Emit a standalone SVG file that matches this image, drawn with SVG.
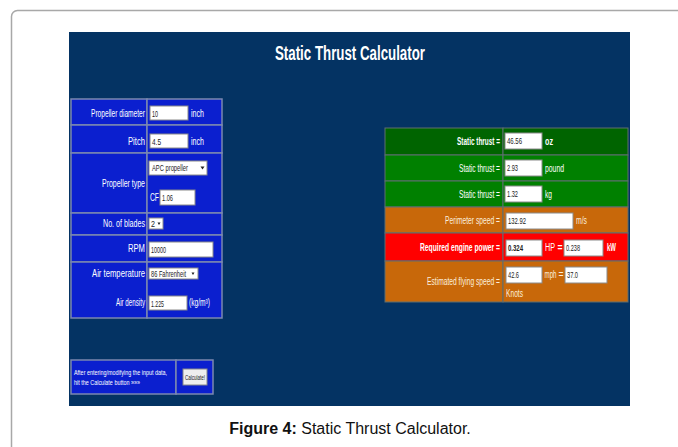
<svg xmlns="http://www.w3.org/2000/svg" width="678" height="447" viewBox="0 0 678 447">
<style>
text{font-family:"Liberation Sans",Arial,sans-serif;}
.lbl{fill:#fff;font-size:11px;text-anchor:end;}
.unit{fill:#fff;font-size:10px;}
.val{fill:#222;font-size:9px;}
.inp{fill:#fff;stroke:#8a8a8a;stroke-width:1;}
.arr{fill:#222;}
.lc{fill:#0b1fcf;stroke:#7b88b0;stroke-width:1.5;}
.rc{stroke:#5f6f70;stroke-width:1;}
.cream{fill:#fbeedd;}
</style>
<rect x="11.5" y="10.5" width="720" height="470" rx="6" fill="#fff" stroke="#a8a8a8" stroke-width="1.5"/>
<rect x="69" y="32" width="561" height="374" fill="#043363"/>
<text x="350" y="60" fill="#fff" font-size="20" font-weight="bold" text-anchor="middle" textLength="150" lengthAdjust="spacingAndGlyphs">Static Thrust Calculator</text>

<g id="input-table">
<rect class="lc" x="71" y="99" width="76" height="26"/><rect class="lc" x="147" y="99" width="75" height="26"/>
<rect class="lc" x="71" y="125" width="76" height="28"/><rect class="lc" x="147" y="125" width="75" height="28"/>
<rect class="lc" x="71" y="153" width="76" height="60"/><rect class="lc" x="147" y="153" width="75" height="60"/>
<rect class="lc" x="71" y="213" width="76" height="22"/><rect class="lc" x="147" y="213" width="75" height="22"/>
<rect class="lc" x="71" y="235" width="76" height="27"/><rect class="lc" x="147" y="235" width="75" height="27"/>
<rect class="lc" x="71" y="262" width="76" height="56"/><rect class="lc" x="147" y="262" width="75" height="56"/>
</g>

<g id="propeller-diameter">
<text class="lbl" x="145" y="117" textLength="54" lengthAdjust="spacingAndGlyphs">Propeller diameter</text>
<rect class="inp" x="150" y="106" width="38" height="14"/><text class="val" x="152" y="116.5" textLength="6" lengthAdjust="spacingAndGlyphs">10</text>
<text class="unit" x="191" y="117" textLength="13" lengthAdjust="spacingAndGlyphs">inch</text>
</g>
<g id="pitch">
<text class="lbl" x="145" y="145" textLength="17" lengthAdjust="spacingAndGlyphs">Pitch</text>
<rect class="inp" x="150" y="134" width="38" height="14"/><text class="val" x="152" y="144.5" textLength="9" lengthAdjust="spacingAndGlyphs">4.5</text>
<text class="unit" x="191" y="145" textLength="13" lengthAdjust="spacingAndGlyphs">inch</text>
</g>
<g id="propeller-type">
<text class="lbl" x="145" y="187" textLength="43" lengthAdjust="spacingAndGlyphs">Propeller type</text>
<rect class="inp" x="149" y="161" width="58" height="14"/><text class="val" x="152" y="171" textLength="36" lengthAdjust="spacingAndGlyphs">APC propeller</text>
<polygon class="arr" points="200.5,166.5 204.5,166.5 202.5,169.5"/>
<text class="unit" x="150" y="201" textLength="9" lengthAdjust="spacingAndGlyphs">CF</text>
<rect class="inp" x="160" y="190" width="35" height="15"/><text class="val" x="162" y="200.5" textLength="11" lengthAdjust="spacingAndGlyphs">1.06</text>
</g>
<g id="blades">
<text class="lbl" x="145" y="227" textLength="42" lengthAdjust="spacingAndGlyphs">No. of blades</text>
<rect class="inp" x="149" y="218" width="14" height="11"/><text class="val" x="151" y="226.5" textLength="4" lengthAdjust="spacingAndGlyphs">2</text>
<polygon class="arr" points="157.5,222.5 160.5,222.5 159,225"/>
</g>
<g id="rpm">
<text class="lbl" x="145" y="252" textLength="17" lengthAdjust="spacingAndGlyphs">RPM</text>
<rect class="inp" x="149" y="242" width="64" height="15"/><text class="val" x="151" y="252.5" textLength="15" lengthAdjust="spacingAndGlyphs">10000</text>
</g>
<g id="air-temperature">
<text class="lbl" x="145" y="277" textLength="53" lengthAdjust="spacingAndGlyphs">Air temperature</text>
<rect class="inp" x="149" y="268" width="49" height="11"/><text class="val" x="151" y="276.5" textLength="35" lengthAdjust="spacingAndGlyphs">86 Fahrenheit</text>
<polygon class="arr" points="191.5,272.5 194.5,272.5 193,275"/>
</g>
<g id="air-density">
<text class="lbl" x="145" y="306" textLength="29" lengthAdjust="spacingAndGlyphs">Air density</text>
<rect class="inp" x="149" y="296" width="38" height="14"/><text class="val" x="151" y="306.5" textLength="13" lengthAdjust="spacingAndGlyphs">1.225</text>
<text class="unit" x="189" y="306" textLength="21" lengthAdjust="spacingAndGlyphs">(kg/m³)</text>
</g>

<g id="calculate">
<rect class="lc" x="71" y="360" width="105" height="34"/><rect class="lc" x="176" y="360" width="37" height="34"/>
<text x="74" y="375" fill="#fff" font-size="8" textLength="93" lengthAdjust="spacingAndGlyphs">After entering/modifying the input data,</text>
<text x="74" y="385" fill="#fff" font-size="8" textLength="66" lengthAdjust="spacingAndGlyphs">hit the Calculate button »»»</text>
<rect x="183" y="369" width="24" height="16" fill="#eeeeee" stroke="#888" stroke-width="1"/>
<text x="195" y="380" fill="#222" font-size="8" text-anchor="middle" textLength="20" lengthAdjust="spacingAndGlyphs">Calculate!</text>
</g>

<g id="thrust-oz">
<rect class="rc" x="385" y="128" width="118" height="27" fill="#006400"/><rect class="rc" x="503" y="128" width="125" height="27" fill="#006400"/>
<text class="lbl" x="500" y="145" font-weight="bold" textLength="43" lengthAdjust="spacingAndGlyphs">Static thrust =</text>
<rect class="inp" x="505" y="133" width="37" height="16"/><text class="val" x="507" y="144" textLength="15" lengthAdjust="spacingAndGlyphs">46.56</text>
<text class="unit" x="545" y="145" font-weight="bold" textLength="8" lengthAdjust="spacingAndGlyphs">oz</text>
</g>
<g id="thrust-pound">
<rect class="rc" x="385" y="155" width="118" height="26" fill="#008000"/><rect class="rc" x="503" y="155" width="125" height="26" fill="#008000"/>
<text class="lbl" x="500" y="172" textLength="41" lengthAdjust="spacingAndGlyphs">Static thrust =</text>
<rect class="inp" x="505" y="160" width="37" height="16"/><text class="val" x="507" y="171" textLength="11" lengthAdjust="spacingAndGlyphs">2.93</text>
<text class="unit" x="545" y="172" textLength="19" lengthAdjust="spacingAndGlyphs">pound</text>
</g>
<g id="thrust-kg">
<rect class="rc" x="385" y="181" width="118" height="26" fill="#008000"/><rect class="rc" x="503" y="181" width="125" height="26" fill="#008000"/>
<text class="lbl" x="500" y="198" textLength="41" lengthAdjust="spacingAndGlyphs">Static thrust =</text>
<rect class="inp" x="505" y="186" width="37" height="16"/><text class="val" x="507" y="197" textLength="11" lengthAdjust="spacingAndGlyphs">1.32</text>
<text class="unit" x="545" y="198" textLength="7" lengthAdjust="spacingAndGlyphs">kg</text>
</g>
<g id="perimeter-speed">
<rect class="rc" x="385" y="207" width="118" height="26" fill="#c8680a"/><rect class="rc" x="503" y="207" width="125" height="26" fill="#c8680a"/>
<text class="lbl cream" x="500" y="224" textLength="55" lengthAdjust="spacingAndGlyphs">Perimeter speed =</text>
<rect class="inp" x="506" y="213" width="67" height="16"/><text class="val" x="508" y="224" textLength="18" lengthAdjust="spacingAndGlyphs">132.92</text>
<text class="unit cream" x="576" y="224" textLength="11" lengthAdjust="spacingAndGlyphs">m/s</text>
</g>
<g id="engine-power">
<rect class="rc" x="385" y="233" width="118" height="28" fill="#ff0000"/><rect class="rc" x="503" y="233" width="125" height="28" fill="#ff0000"/>
<text class="lbl" x="500" y="251" font-weight="bold" textLength="80" lengthAdjust="spacingAndGlyphs">Required engine power =</text>
<rect class="inp" x="506" y="240" width="36" height="16"/><text class="val" x="508" y="251" font-weight="bold" textLength="15" lengthAdjust="spacingAndGlyphs">0.324</text>
<text class="unit" x="545" y="251" textLength="10" lengthAdjust="spacingAndGlyphs">HP</text>
<text class="unit" x="557.5" y="251" font-weight="bold" textLength="5" lengthAdjust="spacingAndGlyphs">=</text>
<rect class="inp" x="564" y="240" width="39" height="16"/><text class="val" x="566" y="251" textLength="14" lengthAdjust="spacingAndGlyphs">0.238</text>
<text class="unit" x="607" y="251" font-weight="bold" textLength="9" lengthAdjust="spacingAndGlyphs">kW</text>
</g>
<g id="flying-speed">
<rect class="rc" x="385" y="261" width="118" height="41" fill="#c8680a"/><rect class="rc" x="503" y="261" width="125" height="41" fill="#c8680a"/>
<text class="lbl cream" x="500" y="285" textLength="73" lengthAdjust="spacingAndGlyphs">Estimated flying speed =</text>
<rect class="inp" x="506" y="267" width="36" height="16"/><text class="val" x="508" y="278" textLength="11" lengthAdjust="spacingAndGlyphs">42.6</text>
<text class="unit cream" x="544.5" y="278" textLength="12" lengthAdjust="spacingAndGlyphs">mph</text>
<text class="unit cream" x="558.5" y="278" textLength="5" lengthAdjust="spacingAndGlyphs">=</text>
<rect class="inp" x="565" y="267" width="42" height="16"/><text class="val" x="567" y="278" textLength="11" lengthAdjust="spacingAndGlyphs">37.0</text>
<text class="unit cream" x="506" y="297" textLength="17" lengthAdjust="spacingAndGlyphs">Knots</text>
</g>

<g id="connectors"></g>

<text x="350" y="434" font-size="16" fill="#111" text-anchor="middle"><tspan font-weight="bold">Figure 4:</tspan> Static Thrust Calculator.</text>
</svg>
